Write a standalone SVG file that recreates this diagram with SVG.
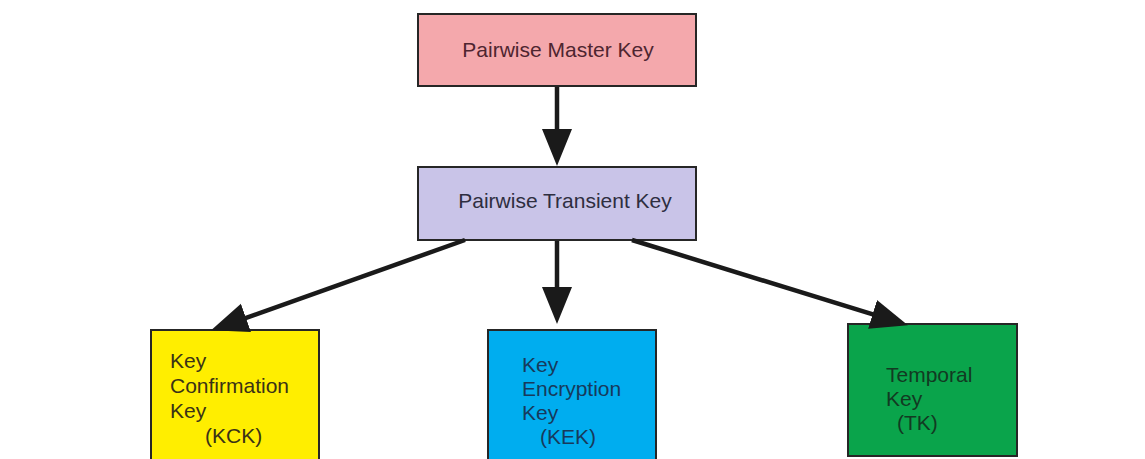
<svg xmlns="http://www.w3.org/2000/svg" width="1145" height="459" viewBox="0 0 1145 459">
  <style>
    .box { stroke: #262626; stroke-width: 2; }
    .lbl { font-family: "Liberation Sans", Arial, sans-serif; font-size: 21px; }
    .conn { stroke: #1a1a1a; stroke-width: 4.5; fill: none; marker-end: url(#head); }
  </style>
  <defs>
    <marker id="head" markerUnits="userSpaceOnUse" markerWidth="40" markerHeight="32" refX="8" refY="15" orient="auto" viewBox="0 0 40 32">
      <path d="M0,0 L37,15 L0,30 z" fill="#1a1a1a"/>
    </marker>
  </defs>
  <rect width="1145" height="459" fill="#ffffff"/>

  <g id="pmk">
    <rect class="box" x="418" y="14" width="278" height="72" fill="#f4a8ac"/>
    <text class="lbl" x="558" y="57" text-anchor="middle" fill="#4e2530">Pairwise Master Key</text>
  </g>
  <g id="ptk">
    <rect class="box" x="418" y="167" width="278" height="73" fill="#c9c4e8"/>
    <text class="lbl" x="565" y="208" text-anchor="middle" fill="#2e2e40">Pairwise Transient Key</text>
  </g>
  <g id="kck">
    <rect class="box" x="151" y="330" width="168" height="135" fill="#ffee00"/>
    <text class="lbl" fill="#3a3216">
      <tspan x="170" y="368">Key</tspan>
      <tspan x="170" y="393">Confirmation</tspan>
      <tspan x="170" y="418">Key</tspan>
      <tspan x="205" y="443">(KCK)</tspan>
    </text>
  </g>
  <g id="kek">
    <rect class="box" x="488" y="330" width="168" height="135" fill="#00adef"/>
    <text class="lbl" fill="#173a5c">
      <tspan x="522" y="372">Key</tspan>
      <tspan x="522" y="396">Encryption</tspan>
      <tspan x="522" y="420">Key</tspan>
      <tspan x="540" y="444">(KEK)</tspan>
    </text>
  </g>
  <g id="tk">
    <rect class="box" x="848" y="324" width="169" height="132" fill="#0aa44b"/>
    <text class="lbl" fill="#123a22">
      <tspan x="886" y="382">Temporal</tspan>
      <tspan x="886" y="406">Key</tspan>
      <tspan x="897" y="430">(TK)</tspan>
    </text>
  </g>

  <g id="connectors">
    <line class="conn" x1="557" y1="87" x2="557" y2="137"/>
    <line class="conn" x1="557" y1="241" x2="557" y2="295"/>
    <line class="conn" x1="465" y1="240" x2="238.4" y2="320.6"/>
    <line class="conn" x1="632" y1="240" x2="880.2" y2="316.7"/>
  </g>
</svg>
